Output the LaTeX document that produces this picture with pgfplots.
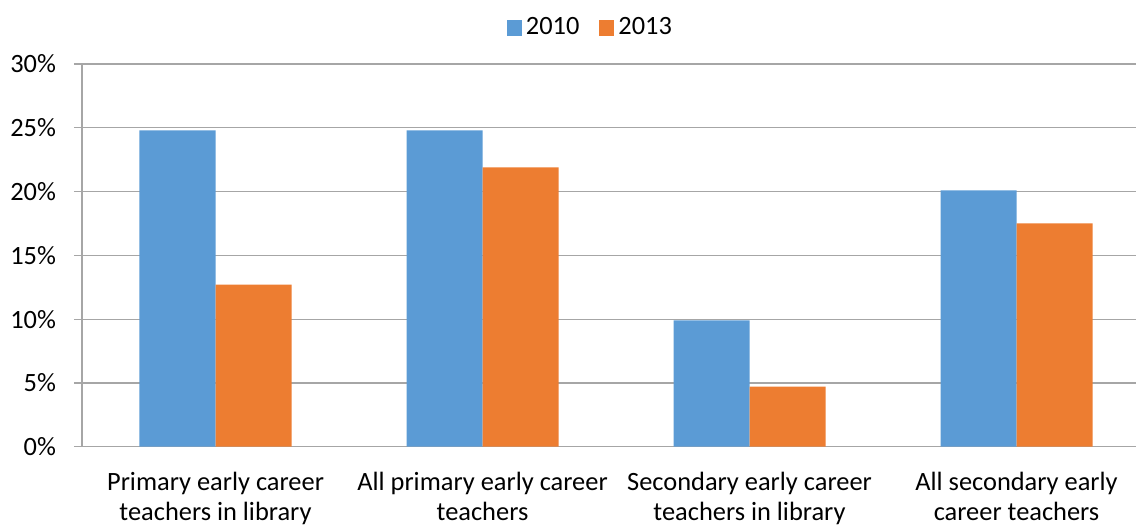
\documentclass[border=0pt]{standalone}
\usepackage{fontspec}
\setmainfont{Carlito}
\usepackage{pgfplots}
\pgfplotsset{compat=1.18}
\definecolor{cblue}{HTML}{5B9BD5}
\definecolor{corange}{HTML}{ED7D31}
\definecolor{gridc}{HTML}{A6A6A6}
\begin{document}
\begin{tikzpicture}
\path[use as bounding box] (0,0) rectangle (568pt,262.5pt);
\clip (0,0) rectangle (568pt,262.5pt);
\begin{axis}[
  at={(41pt,39.15pt)}, anchor=south west,
  scale only axis, width=534pt, height=191.35pt,
  xmin=-0.5, xmax=3.5, ymin=0, ymax=30,
  ybar=0pt, bar width=38pt,
  axis x line*=bottom, axis y line*=left,
  axis line style={gridc, line width=0.6pt, -},
  ymajorgrids, grid style={gridc, line width=0.6pt},
  tick align=outside,
  ytick={0,5,10,15,20,25,30},
  yticklabels={0\%,5\%,10\%,15\%,20\%,25\%,30\%},
  major tick length=4pt,
  tick style={gridc, line width=0.6pt},
  xtick={0,1,2,3},
  x tick style={draw=none},
  extra x ticks={-0.5,0.5,1.5,2.5,3.5},
  extra x tick labels={},
  extra x tick style={grid=none, tick style={gridc, line width=0.6pt, draw=gridc}, major tick length=4pt},
  xticklabels={{Primary early career\\teachers in library},{All primary early career\\teachers},{Secondary early career\\teachers in library},{All secondary early\\career teachers}},
  every tick label/.append style={font=\fontsize{13.2pt}{15.3pt}\selectfont, text=black},
  xticklabel style={align=center, yshift=-5pt},
  yticklabel style={xshift=-5.5pt},
  legend columns=2,
  legend style={draw=none, at={(0.477,1.095)}, anchor=center, font=\fontsize{13.2pt}{15pt}\selectfont,
    /tikz/every even column/.append style={column sep=8pt}},
  legend image code/.code={\fill[#1] (0pt,-4pt) rectangle (7.5pt,4pt);},
]
\addplot[fill=cblue, draw=none] coordinates {(0,24.8) (1,24.8) (2,9.9) (3,20.1)};
\addplot[fill=corange, draw=none] coordinates {(0,12.7) (1,21.9) (2,4.7) (3,17.5)};
\legend{2010,2013}
\end{axis}
\end{tikzpicture}
\end{document}
